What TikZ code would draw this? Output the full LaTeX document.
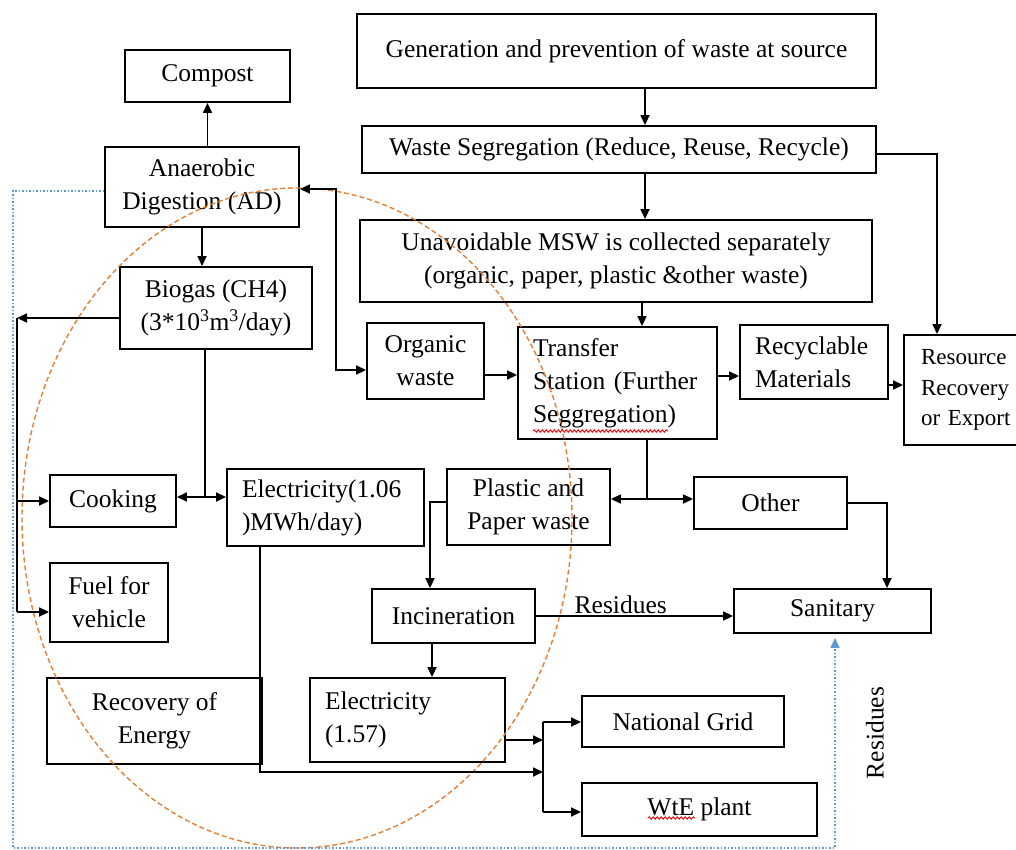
\documentclass[tikz,border=0pt]{standalone}
\usepackage{fontspec}
\setmainfont{Liberation Serif}
\usetikzlibrary{arrows.meta,decorations.pathmorphing}
\definecolor{oorange}{RGB}{237,125,49}
\definecolor{oblue}{RGB}{91,155,213}
\begin{document}
\begin{tikzpicture}[x=1pt,y=-1pt,
  box/.style={draw, line width=1.9pt, inner sep=0pt, align=center, font=\fontsize{25.5}{33}\selectfont},
  lbox/.style={box, align=left, inner xsep=15pt, text width=#1},
  arr/.style={line width=1.7pt, -{Triangle[length=10pt,width=9pt]}},
  darr/.style={line width=1.7pt, {Triangle[length=10pt,width=9pt]}-{Triangle[length=10pt,width=9pt]}},
  ln/.style={line width=1.7pt},
  bluedot/.style={oblue, line width=1.5pt, dotted, -{Triangle[length=10pt,width=9pt]}},
  wavy/.style={red, line width=0.9pt, decorate, decoration={snake, amplitude=1.2pt, segment length=4pt}},
  lbl/.style={font=\fontsize{25.5}{33}\selectfont, inner sep=1pt}
]
\useasboundingbox (0,0) rectangle (1016,850);
\fill[white] (0,0) rectangle (1016,850);

% boxes
\node[box, minimum width=165pt, minimum height=52pt] (compost) at (207.5,76) {Compost};
\node[box, minimum width=519pt, minimum height=74pt] (gen) at (616.5,51) {Generation and prevention of waste at source};
\node[box, minimum width=514pt, minimum height=47pt] (seg) at (619,149.5) {Waste Segregation (Reduce, Reuse, Recycle)};
\node[box, minimum width=194pt, minimum height=80pt] (ad) at (202,187) {Anaerobic\\Digestion (AD)};
\node[box, minimum width=192pt, minimum height=82pt] (biogas) at (216,308) {Biogas (CH4)\\(3*10\textsuperscript{3}m\textsuperscript{3}/day)};
\node[box, minimum width=512pt, minimum height=82pt] (msw) at (616,261) {Unavoidable MSW is collected separately\\(organic, paper, plastic \&other waste)};
\node[box, minimum width=117pt, minimum height=76pt] (organic) at (425.5,361) {Organic\\waste};
\node[lbox=169pt, minimum width=199pt, minimum height=112pt] (transfer) at (617.5,383) {Transfer\\Station (Further\\Seggregation)};
\node[lbox=118pt, minimum width=148pt, minimum height=74pt] (recyc) at (814,362) {Recyclable\\Materials};
\node[box, align=left, inner xsep=17pt, text width=96pt, minimum height=110pt, font=\fontsize{23}{30.5}\selectfont] (resource) at (969,390) {\hyphenpenalty=10000 Resource\\Recovery\\or Export};
\node[box, minimum width=126pt, minimum height=52pt] (cooking) at (113,501) {Cooking};
\node[lbox=167pt, minimum width=197pt, minimum height=77pt] (elec1) at (325.5,507.5) {Electricity(1.06\\)MWh/day)};
\node[box, minimum width=163pt, minimum height=76pt] (plastic) at (528.5,507) {Plastic and\\Paper waste};
\node[box, minimum width=153pt, minimum height=52pt] (other) at (770.5,503) {Other};
\node[box, minimum width=118pt, minimum height=79pt] (fuel) at (109,602.5) {Fuel for\\vehicle};
\node[box, minimum width=163pt, minimum height=54pt] (incin) at (453.5,616) {Incineration};
\node[box, minimum width=197pt, minimum height=44pt] (sanitary) at (832.5,611) {Sanitary};
\node[box, minimum width=215pt, minimum height=86pt] (recovery) at (154.5,721) {Recovery of\\Energy};
\node[lbox=165pt, minimum width=195pt, minimum height=84pt] (elec2) at (407.5,720) {Electricity\\(1.57)};
\node[box, minimum width=202pt, minimum height=51pt] (grid) at (683,721.5) {National Grid};
\node[box, minimum width=235pt, minimum height=53pt] (wte) at (699.5,809.5) {WtE plant};

% orange dashed ellipse
\draw[oorange, line width=1.4pt, dash pattern=on 5pt off 3pt] (297,518) ellipse [x radius=275pt, y radius=330pt];

% coordinates
\coordinate (lb) at (17,318);
\coordinate (lbot) at (17,612);
\coordinate (bj) at (205,497);
\coordinate (tj) at (647,499);
\coordinate (gj) at (543,722);
\coordinate (gb) at (543,812);
\coordinate (eb) at (543,772);
\coordinate (bl1) at (13,191);
\coordinate (bl2) at (13,848);
\coordinate (bl3) at (835,848);

% connectors
\draw[arr] (ad.north -| compost.south) -- (compost.south);
\draw[arr] (ad.south) -- (ad.south |- biogas.north);
\draw[arr] ([xshift=28.5pt]gen.south) -- ([xshift=28.5pt]gen.south |- seg.north);
\draw[arr] ([xshift=26pt]seg.south) -- ([xshift=26pt]seg.south |- msw.north);
\draw[arr] ([xshift=26pt]msw.south) -- ([xshift=26pt]msw.south |- transfer.north);
\draw[arr] ([yshift=-4.5pt]seg.east) -| ([xshift=-32pt]resource.north);
\draw[arr] ([yshift=7pt]transfer.east) -- ([yshift=7pt]transfer.east -| recyc.west);
\draw[arr] ([yshift=-23pt]recyc.east) -- ([yshift=-23pt]recyc.east -| resource.west);
\draw[arr] ([yshift=-14pt]organic.east) -- ([yshift=-14pt]organic.east -| transfer.west);
\draw[darr] ([yshift=-2pt]ad.east) -- ++(36,0) |- ([yshift=-9pt]organic.west);
\draw[arr] ([yshift=-10pt]biogas.west) -- (lb);
\draw[ln] (lb) -- (lbot);
\draw[arr] (lb |- cooking.west) -- (cooking.west);
\draw[arr] (lbot) -- (lbot -| fuel.west);
\draw[ln] (bj |- biogas.south) -- (bj);
\draw[darr] (bj -| cooking.east) -- (bj -| elec1.west);
\draw[ln] (tj |- transfer.south) -- (tj);
\draw[darr] (tj -| plastic.east) -- (tj -| other.west);
\draw[arr] ([yshift=5pt]plastic.west) -| ([xshift=-23.5pt]incin.north);
\draw[arr] ([xshift=-21.5pt]incin.south) -- ([xshift=-21.5pt]incin.south |- elec2.north);
\draw[arr] (incin.east) -- (incin.east -| sanitary.west) node[lbl, pos=0.43, above] (res1) {Residues};
\draw[arr] (other.east) -| ([xshift=54.5pt]sanitary.north);
\draw[ln] (gj) -- (gb);
\draw[arr] (gj) -- (gj -| grid.west);
\draw[arr] (gb) -- (gb -| wte.west);
\draw[arr] ([yshift=-20pt]elec2.east) -- ([yshift=-20pt]elec2.east -| gj);
\draw[arr] ([xshift=-65.5pt]elec1.south) |- (eb);
\draw[bluedot] ([yshift=-4pt]ad.west) -- (bl1) -- (bl2) -- (bl3) -- ([yshift=-4pt]bl3 |- sanitary.south);
\node[lbl, rotate=90] (res2) at (875,733) {Residues};

% spell-check underlines
\draw[wavy] (533,431) -- (668,431);
\draw[wavy] (648,818) -- (695,818);
\end{tikzpicture}
\end{document}
